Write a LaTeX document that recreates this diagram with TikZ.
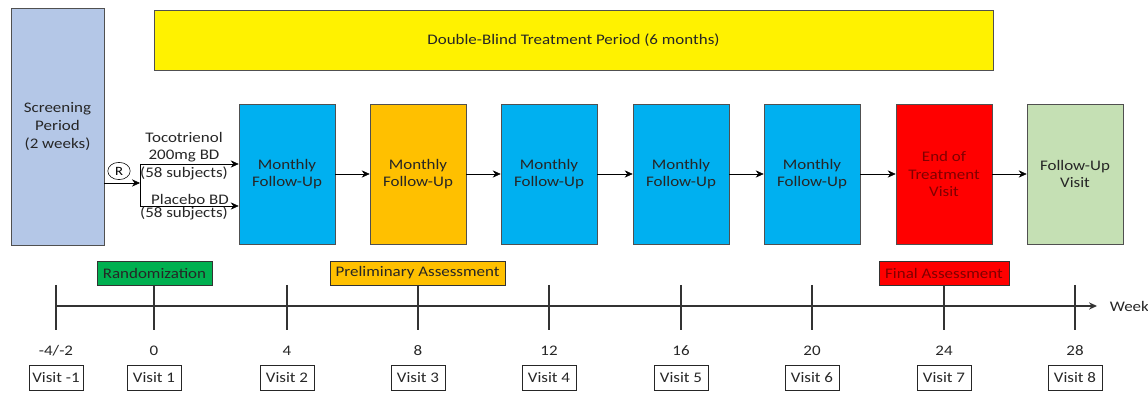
\documentclass[tikz,border=0pt]{standalone}
\usepackage{fontspec}
\setmainfont{Carlito}[FakeStretch=1.16]
\usetikzlibrary{arrows.meta, shapes.geometric}

\definecolor{screenblue}{HTML}{B4C7E7}
\definecolor{visitcyan}{HTML}{00B0F0}
\definecolor{prelimorange}{HTML}{FFC000}
\definecolor{endred}{HTML}{FF0000}
\definecolor{followgreen}{HTML}{C5E0B4}
\definecolor{randgreen}{HTML}{00B050}
\definecolor{edgegray}{HTML}{505050}
\definecolor{textgray}{HTML}{262626}
\definecolor{darkred}{HTML}{800000}

\begin{document}
\begin{tikzpicture}[>={Stealth[length=2mm, width=1.8mm]}, line join=miter,
    font=\fontsize{10.4}{12.6}\selectfont, text=textgray,
    phase/.style={draw=edgegray, thin, inner sep=0pt, align=center},
    flowbox/.style={phase, minimum width=2.4cm, minimum height=3.5cm},
    markbox/.style={draw=black!80, thin, inner sep=0pt, minimum height=0.6cm},
    visitbox/.style={draw=black!85, semithick, inner sep=0pt,
        minimum width=1.35cm, minimum height=0.625cm},
    timeline/.style={draw=black!80, line width=0.9pt}]

    % ── Frame (1148 x 393 px, 1 px = 0.025 cm) ──────────────────────────────
    \useasboundingbox (0,0) rectangle (28.7,9.825);

    % ── Screening and treatment period ──────────────────────────────────────
    \node[phase, fill=screenblue, minimum width=2.325cm, minimum height=5.925cm]
        (screen) at (1.4375,6.6625) {Screening\\Period\\(2 weeks)};

    \node[phase, fill=yellow, minimum width=20.975cm, minimum height=1.5cm]
        (blind) at (14.3375,8.825) {Double-Blind Treatment Period (6 months)};

    % ── Visit boxes of the treatment phase ──────────────────────────────────
    \node[flowbox, fill=visitcyan] (month1) at (7.175,5.475) {Monthly\\Follow-Up};
    \node[flowbox, fill=prelimorange] (month2) at (10.45,5.475) {Monthly\\Follow-Up};
    \node[flowbox, fill=visitcyan] (month3) at (13.725,5.475) {Monthly\\Follow-Up};
    \node[flowbox, fill=visitcyan] (month4) at (17.025,5.475) {Monthly\\Follow-Up};
    \node[flowbox, fill=visitcyan] (month5) at (20.3,5.475) {Monthly\\Follow-Up};
    \node[flowbox, fill=endred, text=darkred] (eot) at (23.6,5.475)
        {End of\\Treatment\\Visit};
    \node[flowbox, fill=followgreen] (fup) at (26.875,5.475) {Follow-Up\\Visit};

    \foreach \a/\b in {month1/month2, month2/month3, month3/month4,
                       month4/month5, month5/eot, eot/fup}
        \draw[->] (\a) -- (\b);

    % ── Randomisation split ─────────────────────────────────────────────────
    \node[ellipse, draw, inner sep=0pt, minimum width=0.56cm, minimum height=0.43cm,
        text=black, font=\fontsize{9}{10}\selectfont] (rand) at (2.975,5.55) {R};

    \coordinate (split) at (3.5,5.25);
    \coordinate (armtop) at (3.5,5.725);
    \coordinate (armbot) at (3.5,4.675);

    \draw[->] (screen.east |- split) -- (split);
    \draw (armtop) -- (armbot);
    \draw[->] (armtop) -- (armtop -| month1.west);
    \draw[->] (armbot) -- (armbot -| month1.west);

    \node[align=center] (drug) at (4.6,5.925) {Tocotrienol\\200mg BD\\(58 subjects)};
    \node[inner sep=0pt, anchor=base] (plac) at (4.75,4.71) {Placebo BD};
    \node[inner sep=0pt, anchor=base] (placn) at (4.6,4.385) {(58 subjects)};

    % ── Time axis ───────────────────────────────────────────────────────────
    \coordinate (axstart) at (1.4,2.175);
    \coordinate (axend) at (27.425,2.175);
    \draw[timeline, ->] (axstart) -- (axend);
    \node[anchor=west] (weeklbl) at (27.62,2.175) {Week};

    \foreach \tx/\wk/\vis in {1.4/{-4/-2}/-1, 3.85/0/1, 7.175/4/2, 10.45/8/3,
                              13.725/12/4, 17.025/16/5, 20.3/20/6,
                              23.6/24/7, 26.875/28/8} {
        \draw[timeline, line width=1.2pt] (\tx,2.7) -- (\tx,1.575);
        \node (wk\vis) at (\tx,1.05) {\wk};
        \node[visitbox] (visit\vis) at (\tx,0.375) {Visit \vis};
    }

    % ── Assessment markers ──────────────────────────────────────────────────
    \node[markbox, fill=randgreen, minimum width=2.875cm] (randlbl)
        at (3.8625,3.0) {Randomization};
    \node[markbox, fill=prelimorange, minimum width=4.375cm] (prelim)
        at (10.44,3.0) {Preliminary Assessment};
    \node[markbox, fill=endred, text=darkred, minimum width=3.25cm] (final)
        at (23.6,3.0) {Final Assessment};

\end{tikzpicture}
\end{document}
